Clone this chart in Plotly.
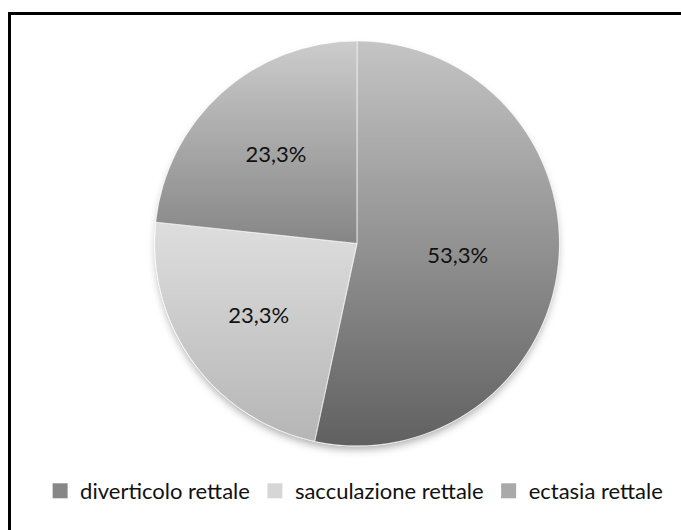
import base64
import plotly.graph_objects as go

# Data
categories = ["diverticolo rettale", "sacculazione rettale", "ectasia rettale"]
percentages = [53.3, 23.3, 23.3]

# Styling: slice tints are laid semi-transparently over a vertical grey ramp
slice_rgb = [(158, 158, 158), (255, 255, 255), (143, 143, 143)]
slice_alpha = [0.61, 0.71, 0.45]
legend_colors = ["#878787", "#d6d6d6", "#a9a9a9"]

W, H = 681, 530
CX, CY, R = 357.0, 243.5, 202.5   # pie centre / radius in pixels
FONT = "Lato"

fig = go.Figure()

fig.add_trace(go.Pie(
    labels=categories,
    values=percentages,
    sort=False,
    direction="clockwise",
    rotation=0,
    marker=dict(
        colors=[f"rgba({r},{g},{b},{a})" for (r, g, b), a in zip(slice_rgb, slice_alpha)],
        line=dict(color="rgba(255,255,255,0.55)", width=1),
    ),
    texttemplate="%{value:.1f}%",
    textposition="inside",
    insidetextorientation="horizontal",
    textfont=dict(family=FONT, size=22, color="#111111"),
    hoverinfo="label+value",
    showlegend=False,
    domain=dict(
        x=[(CX - R) / W, (CX + R) / W],
        y=[(H - CY - R) / H, (H - CY + R) / H],
    ),
))

# Legend entries
for name, col in zip(categories, legend_colors):
    fig.add_trace(go.Scatter(
        x=[None], y=[None], mode="markers", name=name,
        marker=dict(symbol="square", size=15, color=col),
        hoverinfo="skip",
    ))

# Gradient disc and soft drop shadow under the pie
pad = 30
size = 2 * (R + pad)
svg = f"""<svg xmlns="http://www.w3.org/2000/svg" width="{size}" height="{size}" viewBox="0 0 {size} {size}">
<defs>
<linearGradient id="g" x1="0" y1="0" x2="0" y2="1">
<stop offset="0" stop-color="#ffffff"/><stop offset="1" stop-color="#000000"/>
</linearGradient>
<filter id="s" x="-20%" y="-20%" width="140%" height="140%"><feGaussianBlur stdDeviation="4"/></filter>
</defs>
<circle cx="{R + pad}" cy="{R + pad + 5}" r="{R - 2}" fill="#000000" fill-opacity="0.35" filter="url(#s)"/>
<circle cx="{R + pad}" cy="{R + pad}" r="{R + 0.3}" fill="#ffffff"/>
<circle cx="{R + pad}" cy="{R + pad}" r="{R - 0.4}" fill="url(#g)"/>
</svg>"""
src = "data:image/svg+xml;base64," + base64.b64encode(svg.encode()).decode()

fig.add_layout_image(dict(
    source=src, xref="paper", yref="paper",
    x=(CX - R - pad) / W, y=1 - (CY - R - pad) / H,
    sizex=size / W, sizey=size / H,
    xanchor="left", yanchor="top", sizing="stretch", layer="below",
))

# Frame lines (top and left)
fig.add_shape(type="line", xref="paper", yref="paper",
              x0=8 / W, x1=1.0, y0=1 - 13.5 / H, y1=1 - 13.5 / H,
              line=dict(color="black", width=3))
fig.add_shape(type="line", xref="paper", yref="paper",
              x0=9.5 / W, x1=9.5 / W, y0=1 - 12 / H, y1=0,
              line=dict(color="black", width=3))

fig.update_layout(
    width=W, height=H,
    margin=dict(l=0, r=0, t=0, b=0),
    paper_bgcolor="white", plot_bgcolor="white",
    separators=",.",
    xaxis=dict(visible=False), yaxis=dict(visible=False),
    legend=dict(
        orientation="h", x=0.52, xanchor="center",
        y=1 - 491 / H, yanchor="middle",
        font=dict(family=FONT, size=22, color="#111111"),
        itemwidth=30, tracegroupgap=0,
        bgcolor="rgba(0,0,0,0)",
    ),
)

fig.write_html("out.html")
